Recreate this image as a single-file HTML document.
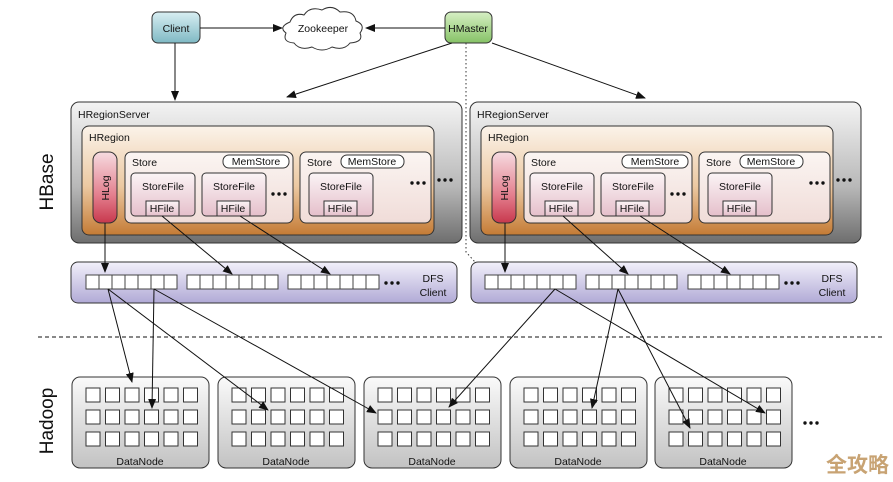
<!DOCTYPE html>
<html><head><meta charset="utf-8"><style>
html,body{margin:0;padding:0;background:#fff;width:893px;height:482px;overflow:hidden}
svg{display:block;font-family:"Liberation Sans",Arial,sans-serif}
</style></head><body>
<svg id="s" width="893" height="482" viewBox="0 0 893 482" xmlns="http://www.w3.org/2000/svg">
<defs>
<linearGradient id="gClient" x1="0" y1="0" x2="0" y2="1"><stop offset="0" stop-color="#d8eef2"/><stop offset="1" stop-color="#7fb9c4"/></linearGradient>
<linearGradient id="gMaster" x1="0" y1="0" x2="0" y2="1"><stop offset="0" stop-color="#d6efc4"/><stop offset="1" stop-color="#86c266"/></linearGradient>
<linearGradient id="gRS" x1="0" y1="0" x2="0" y2="1"><stop offset="0" stop-color="#f4f4f4"/><stop offset="0.6" stop-color="#b8b8b8"/><stop offset="1" stop-color="#6e6e6e"/></linearGradient>
<linearGradient id="gReg" x1="0" y1="0" x2="0" y2="1"><stop offset="0" stop-color="#fbf3ea"/><stop offset="0.55" stop-color="#ecc9a2"/><stop offset="1" stop-color="#c47b35"/></linearGradient>
<linearGradient id="gStore" x1="0" y1="0" x2="0" y2="1"><stop offset="0" stop-color="#fbf5f2"/><stop offset="1" stop-color="#f0dcd8"/></linearGradient>
<linearGradient id="gSF" x1="0" y1="0" x2="0" y2="1"><stop offset="0" stop-color="#fbf4f6"/><stop offset="1" stop-color="#e5bfcb"/></linearGradient>
<linearGradient id="gLog" x1="0" y1="0" x2="0" y2="1"><stop offset="0" stop-color="#f6dbe0"/><stop offset="0.6" stop-color="#e4808f"/><stop offset="1" stop-color="#c8384d"/></linearGradient>
<linearGradient id="gDFS" x1="0" y1="0" x2="0" y2="1"><stop offset="0" stop-color="#f2f0fa"/><stop offset="1" stop-color="#b1aad6"/></linearGradient>
<linearGradient id="gDN" x1="0" y1="0" x2="0" y2="1"><stop offset="0" stop-color="#fafafa"/><stop offset="1" stop-color="#c2c2c2"/></linearGradient>
<marker id="a" markerWidth="10" markerHeight="8" refX="9" refY="4" orient="auto" markerUnits="userSpaceOnUse"><path d="M0,0 L10,4 L0,8 Z" fill="#111"/></marker>
</defs>
<g id="root"></g>
</svg>
<script>
const R=document.getElementById('root');let h='';
function rect(x,y,w,hh,rx,f,sw,st){h+=`<rect x="${x}" y="${y}" width="${w}" height="${hh}" rx="${rx}" fill="${f}" stroke="${st||'#333'}" stroke-width="${sw||1}"/>`;}
function txt(x,y,t,s,a,extra){h+=`<text x="${x}" y="${y}" font-size="${s}" text-anchor="${a||'middle'}" fill="#111" ${extra||''}>${t}</text>`;}
function line(x1,y1,x2,y2,arrow,dash){h+=`<line x1="${x1}" y1="${y1}" x2="${x2}" y2="${y2}" stroke="#111" stroke-width="1" ${arrow?'marker-end="url(#a)"':''} ${dash?'stroke-dasharray="'+dash+'"':''}/>`;}
function dots(x,y){for(let i=0;i<3;i++)h+=`<circle cx="${x+2+i*6}" cy="${y-3}" r="1.7" fill="#111"/>`;}
rect(152,12,48,31,6,'url(#gClient)');txt(176,32,'Client',10.5);
rect(445,12,47,31,6,'url(#gMaster)');txt(468,32,'HMaster',10.5);
h+=`<path d="M290,22 q4,-10 14,-7 q6,-9 18,-5 q10,-6 18,2 q14,-2 16,9 q10,4 4,12 q4,9 -10,10 q-6,8 -18,4 q-10,6 -20,0 q-12,4 -18,-4 q-12,-1 -8,-10 q-8,-6 4,-11 z" fill="#fff" stroke="#333"/>`;
txt(323,32,'Zookeeper',10.5);
line(200,28,282,28,1);line(445,28,366,28,1);
line(175,43,175,100,1);line(452,43,287,97,1);line(492,43,645,98,1);
h+=`<path d="M466,43 L466,252 L484,272" fill="none" stroke="#333" stroke-dasharray="1.5,2.5"/>`;
function rs(ox){
 rect(ox+71,102,391,141,8,'url(#gRS)');txt(ox+78,118,'HRegionServer',10.5,'start');
 rect(ox+82,126,352,109,7,'url(#gReg)');txt(ox+89,141,'HRegion',10.5,'start');
 rect(ox+93,152,24,71,8,'url(#gLog)');txt(0,0,'HLog',10.5,'middle',`transform="translate(${ox+109},188) rotate(-90)"`);
 rect(ox+125,152,168,71,6,'url(#gStore)');txt(ox+132,166,'Store',10.5,'start');
 rect(ox+223,155,66,13,6,'#fff');txt(ox+256,165,'MemStore',10.5);
 [131,202].forEach(x=>{rect(ox+x,173,64,43,4,'url(#gSF)');txt(ox+x+32,190,'StoreFile',10.5);rect(ox+x+15,201,33,15,0,'url(#gSF)');txt(ox+x+31,212,'HFile',10.5);});
 dots(ox+271,197);
 rect(ox+300,152,131,71,6,'url(#gStore)');txt(ox+307,166,'Store',10.5,'start');
 rect(ox+341,155,63,13,6,'#fff');txt(ox+372,165,'MemStore',10.5);
 rect(ox+309,173,64,43,4,'url(#gSF)');txt(ox+341,190,'StoreFile',10.5);rect(ox+324,201,33,15,0,'url(#gSF)');txt(ox+340,212,'HFile',10.5);
 dots(ox+410,186);dots(ox+437,183);
}
rs(0);rs(399);
function dfs(x0,gs,tx){
 rect(x0,262,386,41,7,'url(#gDFS)');
 gs.forEach(g=>{for(let i=0;i<7;i++)rect(g+i*13,275,13,14,0,'#fff',1,'#444');});
 dots(gs[2]+96,286);txt(tx,282,'DFS',10.5);txt(tx,296,'Client',10.5);
}
dfs(71,[86,187,288],433);dfs(471,[485,586,688],832);
line(38,337,885,337,0,'4,3');
[72,218,364,510,655].forEach(x=>{rect(x,377,137,91,8,'url(#gDN)');
 for(let r=0;r<3;r++)for(let c=0;c<6;c++)rect(x+14+c*19.5,388+r*22,14,14,0,'#fff',1,'#333');
 txt(x+68,465,'DataNode',10.5);});
dots(803,426);
txt(0,0,'HBase',19,'middle',`transform="translate(53,182) rotate(-90)"`);
txt(0,0,'Hadoop',19,'middle',`transform="translate(53,421) rotate(-90)"`);
h+=`<text x="826" y="472" font-size="21" font-weight="bold" fill="#c8a373" font-family="'Noto Sans CJK SC',sans-serif">全攻略</text>`;
line(105,223,105,272,1);line(162,216,232,274,1);line(240,216,330,274,1);
line(505,223,505,272,1);line(563,216,628,274,1);line(640,216,730,274,1);
line(108,289,132,382,1);line(108,289,268,410,1);line(154,289,152,408,1);line(154,289,376,413,1);
line(555,289,449,407,1);line(555,289,765,413,1);line(618,289,592,408,1);line(618,289,690,428,1);
R.innerHTML=h;
</script>
</body></html>
